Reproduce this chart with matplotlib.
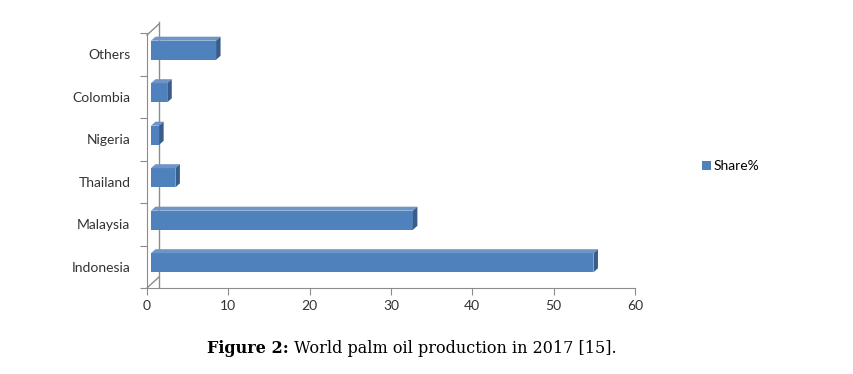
import numpy as np
import matplotlib
matplotlib.use('Agg')
import matplotlib.pyplot as plt
from matplotlib.patches import Polygon, Patch
from matplotlib.transforms import offset_copy

# data (share of world palm oil production, %)
countries = ['Indonesia', 'Malaysia', 'Thailand', 'Nigeria', 'Colombia', 'Others']
share = [54.4, 32.2, 3.0, 1.0, 2.0, 8.0]
xticks = [0, 10, 20, 30, 40, 50, 60]
legend_label = 'Share%'

Front_color = '#4F81BD'
Top_color = '#6D95C8'
Side_color = '#385D8A'
Axis_color = '#8C8C8C'
Tick_font = 'Lato'

Fig = plt.figure(figsize=(8.54, 3.74), dpi=100)
Ax = Fig.add_axes([147/854, 1-288/374, (635-147)/854, (288-33)/374])
Ax.set_xlim(0, 60)
Ax.set_ylim(-0.5, len(countries)-0.5)

# pixels per data unit, to turn the 3D depth into data units
bbox = Ax.get_position()
px_x = bbox.width*854/60.0
px_y = bbox.height*374/len(countries)
depth_x = 4.5/px_x
depth_y = 4.0/px_y

# bars drawn a little into the depth (shifted right/up)
shifted = offset_copy(Ax.transData, fig=Fig, x=4, y=4, units='dots')
index = np.arange(len(countries))
bar_h = 0.45
bars = Ax.barh(index, share, bar_h, color=Front_color, transform=shifted, zorder=3)
for rect in bars:
    x0, y0 = rect.get_x(), rect.get_y()
    w, h = rect.get_width(), rect.get_height()
    top = Polygon([(x0, y0+h), (x0+w, y0+h), (x0+w+depth_x, y0+h+depth_y), (x0+depth_x, y0+h+depth_y)],
                  closed=True, facecolor=Top_color, edgecolor='none', transform=shifted, zorder=3)
    side = Polygon([(x0+w, y0), (x0+w+depth_x, y0+depth_y), (x0+w+depth_x, y0+h+depth_y), (x0+w, y0+h)],
                   closed=True, facecolor=Side_color, edgecolor='none', transform=shifted, zorder=3)
    Ax.add_patch(top)
    Ax.add_patch(side)

# back wall edge and the diagonals joining it to the front axis
wall = offset_copy(Ax.transAxes, fig=Fig, x=12, y=11, units='dots')
Ax.plot([0, 0], [-0.04, 1.0], color=Axis_color, lw=1, transform=wall, clip_on=False)
corner = Ax.transAxes.transform((0, 0))
top_corner = Ax.transAxes.transform((0, 1))
Fig.add_artist(plt.Line2D([corner[0]/854, (corner[0]+12)/854], [corner[1]/374, (corner[1]+11)/374],
                          color=Axis_color, lw=1))
Fig.add_artist(plt.Line2D([top_corner[0]/854, (top_corner[0]+12)/854], [(top_corner[1]-2)/374, (top_corner[1]+9)/374],
                          color=Axis_color, lw=1))

for s in ['top', 'right']:
    Ax.spines[s].set_visible(False)
for s in ['left', 'bottom']:
    Ax.spines[s].set_color(Axis_color)

Ax.set_xticks(xticks)
Ax.set_xticklabels([str(v) for v in xticks], fontsize=10, family=Tick_font, color='#333333')
Ax.set_yticks(np.arange(-0.5, len(countries), 1.0))
Ax.set_yticklabels([])
Ax.set_yticks(index, minor=True)
Ax.set_yticklabels(countries, minor=True, fontsize=10, family=Tick_font, color='#333333')
Ax.tick_params(axis='y', which='minor', length=0, pad=12)
Ax.tick_params(axis='both', which='major', color=Axis_color, length=5)
Ax.tick_params(axis='x', pad=4)

Fig.legend(handles=[Patch(facecolor=Front_color)], labels=[legend_label], loc='center left',
           bbox_to_anchor=(690/854, 1-166/374), frameon=False, handlelength=0.6, handleheight=0.6,
           handletextpad=0.2, prop={'family': Tick_font, 'size': 10})

# caption below the chart
cap = Fig.text(207/854, 1-353/374, 'Figure 2:', fontsize=11.5, family='DejaVu Serif', weight='bold')
Ax.annotate(' World palm oil production in 2017 [15].', xy=(1, 0), xycoords=cap, va='bottom',
            fontsize=11.5, family='DejaVu Serif')

Fig.savefig('out.png', dpi=100)
plt.close(Fig)
